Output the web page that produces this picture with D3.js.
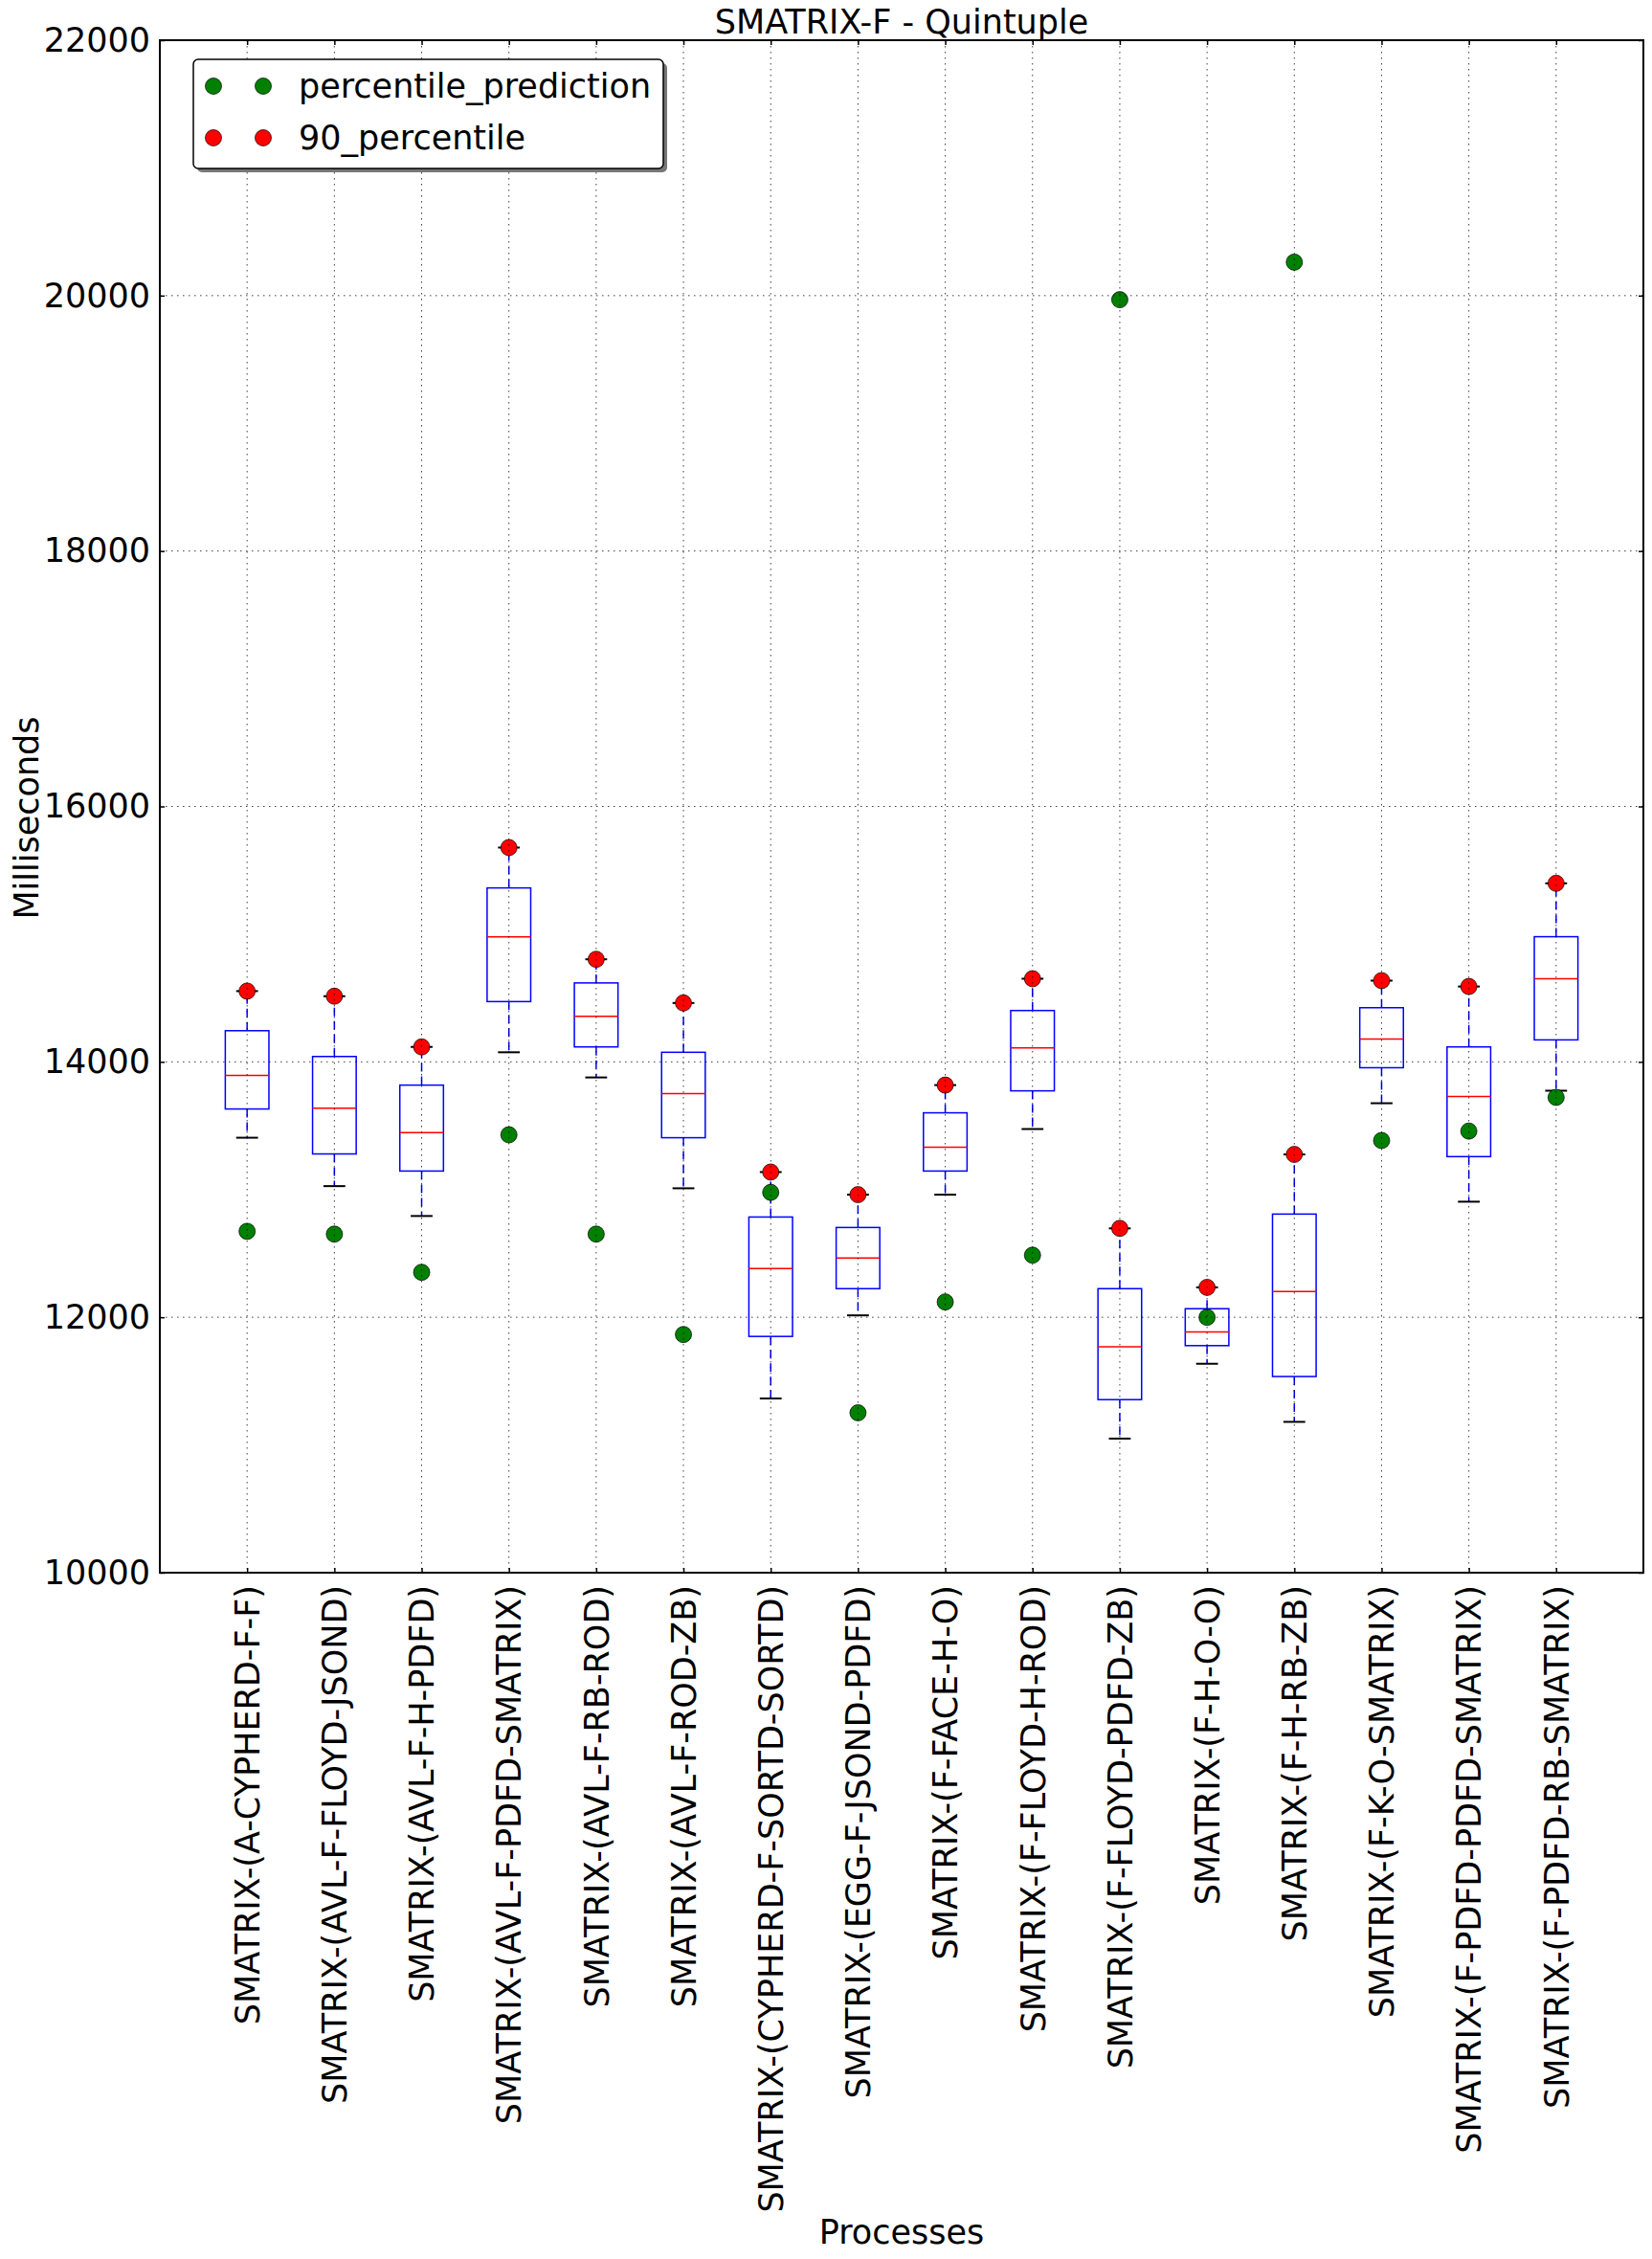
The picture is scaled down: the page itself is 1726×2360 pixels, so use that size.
<!DOCTYPE html>
<html>
<head>
<meta charset="utf-8">
<script src="https://cdn.jsdelivr.net/npm/d3@7"></script>
<style>
  body { margin: 0; background: #fff; }
  text { font-family: "DejaVu Sans", sans-serif; }
</style>
</head>
<body>
<div id="chart"></div>
<script>
// process names, one box each
const processes = [
  "SMATRIX-(A-CYPHERD-F-F)", "SMATRIX-(AVL-F-FLOYD-JSOND)", "SMATRIX-(AVL-F-H-PDFD)",
  "SMATRIX-(AVL-F-PDFD-SMATRIX)", "SMATRIX-(AVL-F-RB-ROD)", "SMATRIX-(AVL-F-ROD-ZB)",
  "SMATRIX-(CYPHERD-F-SORTD-SORTD)", "SMATRIX-(EGG-F-JSOND-PDFD)", "SMATRIX-(F-FACE-H-O)",
  "SMATRIX-(F-FLOYD-H-ROD)", "SMATRIX-(F-FLOYD-PDFD-ZB)", "SMATRIX-(F-H-O-O)",
  "SMATRIX-(F-H-RB-ZB)", "SMATRIX-(F-K-O-SMATRIX)", "SMATRIX-(F-PDFD-PDFD-SMATRIX)",
  "SMATRIX-(F-PDFD-RB-SMATRIX)"
];

// box stats (ms)
const whiskerLow = [13406, 13027, 12793, 14075, 13878, 13010, 11364, 12015, 12960, 13474, 11050, 11636, 11181, 13676, 12905, 13774];
const q1 =         [13631, 13279, 13145, 14472, 14117, 13406, 11850, 12224, 13145, 13773, 11355, 11778, 11536, 13954, 13258, 14172];
const median =     [13893, 13638, 13446, 14978, 14357, 13751, 12381, 12464, 13332, 14110, 11768, 11885, 12201, 14178, 13728, 14650];
const q3 =         [14244, 14042, 13818, 15362, 14618, 14075, 12785, 12703, 13601, 14402, 12224, 12067, 12808, 14424, 14117, 14980];
const whiskerHigh = [14554, 14514, 14117, 15678, 14803, 14461, 13137, 12960, 13818, 14651, 12696, 12234, 13275, 14636, 14590, 15398];

// the two dot series
const percentile90 = [14554, 14514, 14117, 15678, 14803, 14461, 13137, 12960, 13818, 14651, 12696, 12234, 13275, 14636, 14590, 15398];
const percentilePrediction = [12673, 12651, 12352, 13429, 12651, 11865, 12978, 11252, 12120, 12486, 19968, 12000, 20262, 13384, 13458, 13722];

const yTicks = [10000, 12000, 14000, 16000, 18000, 20000, 22000];

const W = 1726, H = 2360;
const margin = {top: 42, right: 9, bottom: 717, left: 167};
const width = W - margin.left - margin.right,
    height = H - margin.top - margin.bottom;

const svg = d3.select("#chart").append("svg")
    .attr("width", W).attr("height", H)
    .style("background", "#fff");

const g = svg.append("g").attr("transform", `translate(${margin.left},${margin.top})`);

const x = d3.scaleLinear().domain([0, processes.length + 1]).range([0, width]);
const y = d3.scaleLinear().domain([10000, 22000]).range([height, 0]);

const boxW = x(0.5) - x(0);
const fs = 35;

// boxes
const boxes = g.append("g").selectAll("g").data(processes).join("g")
    .attr("transform", (d, i) => `translate(${x(i + 1)},0)`);

// whiskers (dashed blue)
boxes.append("line")
    .attr("y1", (d, i) => y(q3[i])).attr("y2", (d, i) => y(whiskerHigh[i]))
    .attr("stroke", "#0000ff").attr("stroke-width", 1.5).attr("stroke-dasharray", "9,5");
boxes.append("line")
    .attr("y1", (d, i) => y(q1[i])).attr("y2", (d, i) => y(whiskerLow[i]))
    .attr("stroke", "#0000ff").attr("stroke-width", 1.5).attr("stroke-dasharray", "9,5");

// caps
boxes.append("line")
    .attr("x1", -boxW / 4).attr("x2", boxW / 4)
    .attr("y1", (d, i) => y(whiskerHigh[i])).attr("y2", (d, i) => y(whiskerHigh[i]))
    .attr("stroke", "#000").attr("stroke-width", 2);
boxes.append("line")
    .attr("x1", -boxW / 4).attr("x2", boxW / 4)
    .attr("y1", (d, i) => y(whiskerLow[i])).attr("y2", (d, i) => y(whiskerLow[i]))
    .attr("stroke", "#000").attr("stroke-width", 2);

boxes.append("rect")
    .attr("x", -boxW / 2).attr("width", boxW)
    .attr("y", (d, i) => y(q3[i]))
    .attr("height", (d, i) => y(q1[i]) - y(q3[i]))
    .attr("fill", "none").attr("stroke", "#0000ff").attr("stroke-width", 1.5);

boxes.append("line")
    .attr("x1", -boxW / 2).attr("x2", boxW / 2)
    .attr("y1", (d, i) => y(median[i])).attr("y2", (d, i) => y(median[i]))
    .attr("stroke", "#ff0000").attr("stroke-width", 1.5);

// dots
const r = 8.5;
g.append("g").selectAll("circle").data(percentilePrediction).join("circle")
    .attr("cx", (d, i) => x(i + 1)).attr("cy", d => y(d)).attr("r", r)
    .attr("fill", "#008000").attr("stroke", "#000").attr("stroke-width", 0.7);
g.append("g").selectAll("circle").data(percentile90).join("circle")
    .attr("cx", (d, i) => x(i + 1)).attr("cy", d => y(d)).attr("r", r)
    .attr("fill", "#ff0000").attr("stroke", "#000").attr("stroke-width", 0.7);

// grid on top (matplotlib classic)
const grid = g.append("g").attr("stroke", "#000").attr("stroke-width", 1)
    .attr("stroke-dasharray", "1.5,4.5").attr("opacity", 0.75);
grid.selectAll(".gx").data(processes).join("line")
    .attr("x1", (d, i) => x(i + 1)).attr("x2", (d, i) => x(i + 1))
    .attr("y1", 0).attr("y2", height);
grid.selectAll(".gy").data(yTicks.slice(1, -1)).join("line")
    .attr("x1", 0).attr("x2", width)
    .attr("y1", d => y(d)).attr("y2", d => y(d));

// axes
const yAxis = g.append("g")
    .call(d3.axisLeft(y).tickValues(yTicks).tickSize(-5).tickPadding(10).tickFormat(d3.format("d")));
yAxis.select(".domain").remove();
yAxis.selectAll("text").attr("font-size", fs).attr("fill", "#000");
yAxis.selectAll("line").attr("stroke-width", 1.5);

const yAxisR = g.append("g").attr("transform", `translate(${width},0)`)
    .call(d3.axisRight(y).tickValues(yTicks).tickSize(-5).tickFormat(""));
yAxisR.select(".domain").remove();
yAxisR.selectAll("line").attr("stroke-width", 1.5);

const xTickVals = processes.map((d, i) => i + 1);
const xAxis = g.append("g").attr("transform", `translate(0,${height})`)
    .call(d3.axisBottom(x).tickValues(xTickVals).tickSize(-5).tickPadding(14)
        .tickFormat(d => processes[d - 1]));
xAxis.select(".domain").remove();
xAxis.selectAll("line").attr("stroke-width", 1.5);
xAxis.selectAll("text")
    .attr("font-size", fs).attr("fill", "#000")
    .attr("transform", "rotate(-90)")
    .attr("text-anchor", "end")
    .attr("x", -13).attr("y", 0).attr("dy", "0.35em");

const xAxisT = g.append("g")
    .call(d3.axisTop(x).tickValues(xTickVals).tickSize(-5).tickFormat(""));
xAxisT.select(".domain").remove();
xAxisT.selectAll("line").attr("stroke-width", 1.5);

// frame
g.append("rect").attr("width", width).attr("height", height)
    .attr("fill", "none").attr("stroke", "#000").attr("stroke-width", 2);

// titles
svg.append("text").attr("x", margin.left + width / 2).attr("y", 35)
    .attr("text-anchor", "middle").attr("font-size", fs).text("SMATRIX-F - Quintuple");
svg.append("text").attr("x", margin.left + width / 2).attr("y", 2344)
    .attr("text-anchor", "middle").attr("font-size", fs).text("Processes");
svg.append("text")
    .attr("transform", `translate(40,${margin.top + height / 2 + 12}) rotate(-90)`)
    .attr("text-anchor", "middle").attr("font-size", fs).text("Milliseconds");

// legend
const legend = svg.append("g").attr("transform", "translate(202,62)");
const lw = 491, lh = 114;
legend.append("rect").attr("x", 4).attr("y", 4).attr("width", lw).attr("height", lh)
    .attr("rx", 5).attr("fill", "#777");
legend.append("rect").attr("width", lw).attr("height", lh)
    .attr("rx", 5).attr("fill", "#fff").attr("stroke", "#000").attr("stroke-width", 1.5);
const entries = [
  {label: "percentile_prediction", color: "#008000"},
  {label: "90_percentile", color: "#ff0000"}
];
const le = legend.selectAll(".entry").data(entries).join("g")
    .attr("transform", (d, i) => `translate(0,${28 + i * 54})`);
le.each(function(d) {
  const s = d3.select(this);
  [21, 73].forEach(cx => s.append("circle").attr("cx", cx).attr("cy", 0).attr("r", r)
      .attr("fill", d.color).attr("stroke", "#000").attr("stroke-width", 0.7));
});
le.append("text").attr("x", 110).attr("dy", "0.35em").attr("font-size", fs).text(d => d.label);
</script>
</body>
</html>
